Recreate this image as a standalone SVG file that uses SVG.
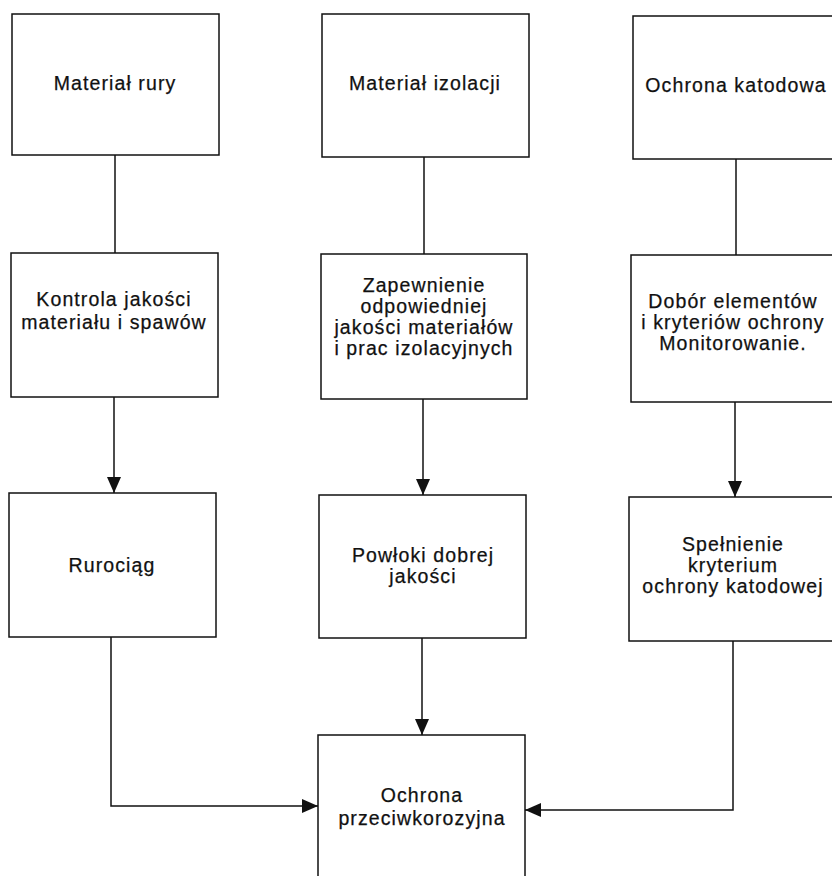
<svg xmlns="http://www.w3.org/2000/svg" width="832" height="876" viewBox="0 0 832 876">
  <style>
    .box { fill: #ffffff; stroke: #111111; stroke-width: 1.5; }
    .lbl { font-family: "Liberation Sans", Arial, sans-serif; font-size: 19.5px; letter-spacing: 1.1px; fill: #111111; stroke: #111111; stroke-width: 0.25; text-anchor: middle; }
    .con { fill: none; stroke: #111111; stroke-width: 1.5; }
  </style>
  <defs>
    <marker id="arr" markerUnits="userSpaceOnUse" markerWidth="17" markerHeight="15" refX="16" refY="7" orient="auto">
      <path d="M0,0 L16,7 L0,14 Z" fill="#111111"/>
    </marker>
  </defs>
  <rect width="832" height="876" fill="#ffffff"/>

  <g id="connectors">
    <line class="con" x1="115" y1="155" x2="115" y2="253"/>
    <line class="con" x1="114" y1="397" x2="114" y2="493" marker-end="url(#arr)"/>
    <line class="con" x1="424" y1="157" x2="424" y2="254"/>
    <line class="con" x1="423" y1="399" x2="423" y2="495" marker-end="url(#arr)"/>
    <line class="con" x1="422" y1="638" x2="422" y2="735" marker-end="url(#arr)"/>
    <line class="con" x1="736" y1="159" x2="736" y2="255"/>
    <line class="con" x1="735" y1="402" x2="735" y2="497" marker-end="url(#arr)"/>
    <polyline class="con" points="111,637 111,806 318,806" marker-end="url(#arr)"/>
    <polyline class="con" points="733,641 733,810 525,810" marker-end="url(#arr)"/>
  </g>

  <g id="n-material-rury">
    <rect class="box" x="12" y="14" width="207" height="141"/>
    <text class="lbl" x="115" y="90">Materiał rury</text>
  </g>
  <g id="n-kontrola">
    <rect class="box" x="11" y="253" width="207" height="144"/>
    <text class="lbl" x="114" y="306">Kontrola jakości</text>
    <text class="lbl" x="114" y="329">materiału i spawów</text>
  </g>
  <g id="n-rurociag">
    <rect class="box" x="9" y="493" width="207" height="144"/>
    <text class="lbl" x="112" y="572">Rurociąg</text>
  </g>

  <g id="n-material-izolacji">
    <rect class="box" x="322" y="14" width="207" height="143"/>
    <text class="lbl" x="425" y="90">Materiał izolacji</text>
  </g>
  <g id="n-zapewnienie">
    <rect class="box" x="321" y="254" width="206" height="145"/>
    <text class="lbl" x="424" y="292">Zapewnienie</text>
    <text class="lbl" x="424" y="313">odpowiedniej</text>
    <text class="lbl" x="424" y="334">jakości materiałów</text>
    <text class="lbl" x="424" y="355">i prac izolacyjnych</text>
  </g>
  <g id="n-powloki">
    <rect class="box" x="319" y="495" width="207" height="143"/>
    <text class="lbl" x="423" y="562">Powłoki dobrej</text>
    <text class="lbl" x="423" y="583">jakości</text>
  </g>
  <g id="n-ochrona-przeciwkorozyjna">
    <rect class="box" x="318" y="735" width="207" height="150"/>
    <text class="lbl" x="422" y="802">Ochrona</text>
    <text class="lbl" x="422" y="825">przeciwkorozyjna</text>
  </g>

  <g id="n-ochrona-katodowa">
    <rect class="box" x="633" y="16" width="210" height="143"/>
    <text class="lbl" x="736" y="92">Ochrona katodowa</text>
  </g>
  <g id="n-dobor">
    <rect class="box" x="631" y="255" width="212" height="147"/>
    <text class="lbl" x="733" y="308">Dobór elementów</text>
    <text class="lbl" x="733" y="329">i kryteriów ochrony</text>
    <text class="lbl" x="733" y="350">Monitorowanie.</text>
  </g>
  <g id="n-spelnienie">
    <rect class="box" x="629" y="497" width="214" height="144"/>
    <text class="lbl" x="733" y="551">Spełnienie</text>
    <text class="lbl" x="733" y="572">kryterium</text>
    <text class="lbl" x="733" y="593">ochrony katodowej</text>
  </g>
</svg>
